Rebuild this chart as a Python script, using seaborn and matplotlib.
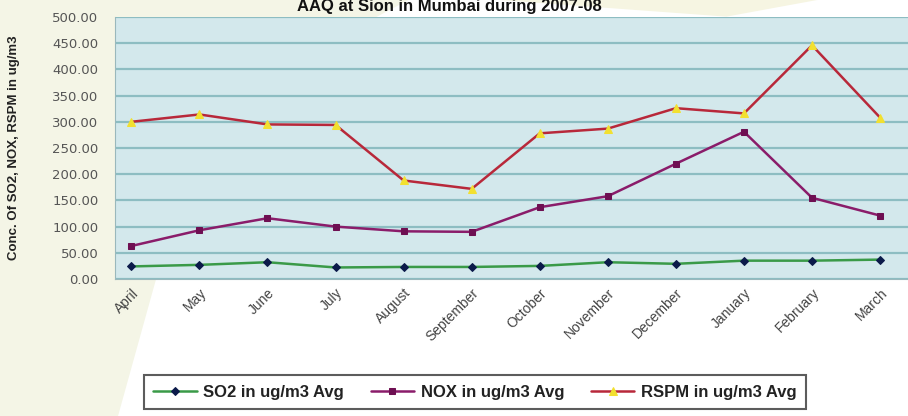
import numpy as np
import pandas as pd
import seaborn as sns
import matplotlib
matplotlib.use("Agg")
import matplotlib.pyplot as plt
from matplotlib.patches import Polygon

months = ["April", "May", "June", "July", "August", "September", "October",
          "November", "December", "January", "February", "March"]
so2 = [24, 27, 32, 22, 23, 23, 25, 32, 29, 35, 35, 37]
nox = [63, 93, 116, 100, 91, 90, 137, 158, 220, 281, 155, 121]
rspm = [300, 314, 295, 294, 188, 172, 278, 287, 326, 316, 446, 308]
series_names = ["SO2 in ug/m3 Avg", "NOX in ug/m3 Avg", "RSPM in ug/m3 Avg"]
yticks = [0, 50, 100, 150, 200, 250, 300, 350, 400, 450, 500]

sns.set_style("white")
plt.rcParams['font.family'] = ['Liberation Sans', 'DejaVu Sans']

df = pd.DataFrame({"month": months, series_names[0]: so2,
                   series_names[1]: nox, series_names[2]: rspm})
long = df.melt(id_vars="month", var_name="series", value_name="value")
long["x"] = long["month"].map({m: i for i, m in enumerate(months)})

fig = plt.figure(figsize=(9.08, 4.16), dpi=100)
fig.patch.set_facecolor("white")

# faint watermark background in a separate back axes
bg = fig.add_axes([0, 0, 1, 1], zorder=-10)
bg.set_xlim(0, 1)
bg.set_ylim(0, 1)
bg.axis("off")
bg.add_patch(Polygon([(0, 0), (0.13, 0), (0.2, 0.55), (0.32, 0.85), (0.45, 1.0), (0.0, 1.0)],
                     closed=True, facecolor="#f4f5e6", edgecolor="none"))
bg.add_patch(Polygon([(0.55, 1.0), (0.9, 1.0), (0.8, 0.96)],
                     closed=True, facecolor="#f6f5e2", edgecolor="none"))

ax = fig.add_axes([115/908, 1 - 279/416, (908-115)/908, (279-17)/416], zorder=1)
ax.set_facecolor("#d3e8ec")

styles = {
    series_names[0]: dict(line="#3a9a48", mk="D", mfc="#0b1a4a", mec="#0b1a4a", ms=4.5),
    series_names[1]: dict(line="#8a1c6a", mk="s", mfc="#6e0f52", mec="#6e0f52", ms=5),
    series_names[2]: dict(line="#b8283a", mk="^", mfc="#f2e030", mec="#f2e030", ms=6),
}
for name in series_names:
    st = styles[name]
    sub = long[long["series"] == name]
    sns.lineplot(data=sub, x="x", y="value", ax=ax, color=st["line"], lw=1.8,
                 marker=st["mk"], markersize=st["ms"], markerfacecolor=st["mfc"],
                 markeredgecolor=st["mec"], label=name, legend=False, zorder=3)

ax.set_xlim(-0.24, 11.41)
ax.set_ylim(0, 500)
ax.set_yticks(yticks)
ax.set_yticklabels([f"{v:.2f}" for v in yticks], fontsize=9.5, color="#555555",
                   family=["DejaVu Sans"])
ax.yaxis.grid(True, color="#8dbdc2", lw=1.6)
ax.xaxis.grid(False)
ax.set_axisbelow(True)
ax.set_xticks(range(len(months)))
ax.set_xticklabels(months, rotation=45, ha="right", rotation_mode="anchor",
                   fontsize=10, color="#444444")
ax.tick_params(axis="x", length=0, pad=5)
ax.set_xticks(np.arange(0.5, 11.5, 1), minor=True)
ax.tick_params(axis="x", which="minor", length=5, color="#999999", width=1)
ax.tick_params(axis="y", length=0, pad=12)
for s in ["top", "right"]:
    ax.spines[s].set_visible(False)
ax.spines["left"].set_color("#9ab8bc")
ax.spines["bottom"].set_color("#9ab8bc")
ax.set_xlabel("")
ax.set_ylabel("Conc. Of SO2, NOX, RSPM in ug/m3", fontsize=9.5, fontweight="bold",
              color="#222222")
ax.yaxis.set_label_coords(-0.12, 0.5)

fig.text(0.495, 1 - 7/416, "AAQ at Sion in Mumbai during 2007-08", ha="center",
         va="center", fontsize=12, fontweight="bold", color="#111111")

handles, labels = ax.get_legend_handles_labels()
leg = fig.legend(handles, labels, loc="center", bbox_to_anchor=(475/908, 1 - 392/416),
                 ncol=3, frameon=True, fancybox=False,
                 prop={"weight": "bold", "size": 12}, handlelength=2.6,
                 columnspacing=1.6, handletextpad=0.4, borderpad=0.55)
leg.get_frame().set_edgecolor("#333333")
leg.get_frame().set_linewidth(1.5)
for t in leg.get_texts():
    t.set_color("#222222")

fig.savefig("out.png", dpi=100)
